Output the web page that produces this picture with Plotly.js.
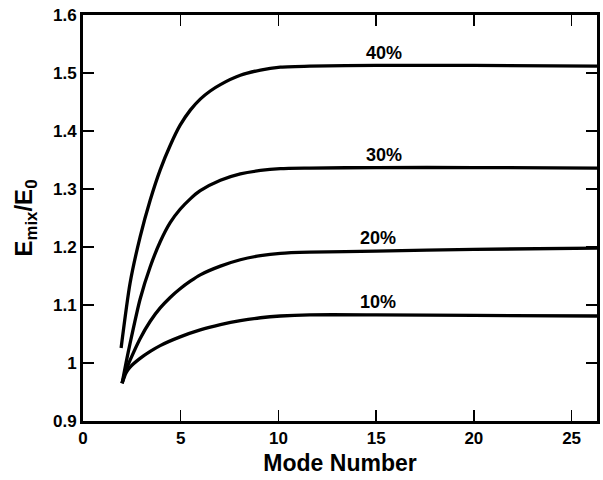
<!DOCTYPE html>
<html>
<head>
<meta charset="utf-8">
<script src="https://cdn.plot.ly/plotly-3.0.1.min.js"></script>
<style>html,body{margin:0;padding:0;background:#fff;}#chart{width:603px;height:480px;}</style>
</head>
<body>
<div id="chart"></div>
<script>
// Data
const x40 = [1.95, 2.41, 2.92, 3.44, 3.95, 4.46, 4.97, 5.49, 6.0, 6.51, 7.03, 8.05, 9.08, 10.1, 11.6, 15, 20, 26.3];
const y40 = [1.026, 1.138, 1.217, 1.281, 1.333, 1.375, 1.41, 1.436, 1.455, 1.469, 1.480, 1.496, 1.505, 1.510, 1.512, 1.513, 1.513, 1.512];

const x30 = [2, 2.2, 2.41, 2.92, 3.44, 3.95, 4.46, 4.97, 5.49, 6.0, 7.03, 8.05, 9.08, 10.1, 11.6, 15, 20, 26.3];
const y30 = [0.965, 1.0, 1.034, 1.110, 1.166, 1.209, 1.242, 1.265, 1.283, 1.297, 1.315, 1.326, 1.332, 1.335, 1.336, 1.337, 1.337, 1.336];

const x20 = [2, 2.2, 2.41, 2.92, 3.44, 3.95, 4.46, 4.97, 5.49, 6.0, 7.03, 8.05, 9.08, 10.1, 11.6, 15, 20, 26.3];
const y20 = [0.965, 0.988, 1.005, 1.042, 1.072, 1.095, 1.113, 1.128, 1.141, 1.152, 1.167, 1.178, 1.185, 1.189, 1.191, 1.193, 1.196, 1.198];

const x10 = [2, 2.2, 2.41, 2.92, 3.44, 3.95, 4.97, 6.0, 7.03, 8.05, 9.08, 10.1, 11.6, 15, 20, 26.3];
const y10 = [0.965, 0.983, 0.993, 1.008, 1.020, 1.030, 1.045, 1.057, 1.066, 1.073, 1.078, 1.081, 1.083, 1.083, 1.082, 1.081];

const labelText = ["40%", "30%", "20%", "10%"];
const labelX = [15.4, 15.4, 15.1, 15.1];
const labelY = [1.534, 1.359, 1.215, 1.105];

const xTicks = [0, 5, 10, 15, 20, 25];
const yTicks = [0.9, 1, 1.1, 1.2, 1.3, 1.4, 1.5, 1.6];

const lineStyle = {color: '#000', width: 3.3, shape: 'spline', smoothing: 0.7};
const traces = [[x40, y40], [x30, y30], [x20, y20], [x10, y10]].map(([xs, ys]) => ({
  x: xs, y: ys, type: 'scatter', mode: 'lines', line: lineStyle, hoverinfo: 'skip'
}));

const font = {family: 'Liberation Sans, Arial, Helvetica, sans-serif', color: '#000', weight: 'bold'};

const annotations = labelText.map((t, i) => ({
  x: labelX[i], y: labelY[i], xref: 'x', yref: 'y', text: t, showarrow: false,
  font: Object.assign({}, font, {size: 18})
}));

const axisCommon = {
  showline: true, linecolor: '#000', linewidth: 3, mirror: 'ticks',
  ticks: 'inside', ticklen: 11, tickwidth: 1.5, tickcolor: '#000',
  showgrid: false, zeroline: false,
  tickfont: Object.assign({}, font, {size: 17})
};

const layout = {
  width: 603, height: 480,
  margin: {l: 83, r: 6, t: 15, b: 59},
  paper_bgcolor: '#fff', plot_bgcolor: '#fff',
  showlegend: false,
  xaxis: Object.assign({}, axisCommon, {
    range: [0, 26.3], tickvals: xTicks, ticktext: xTicks.map(String),
    title: {text: 'Mode Number', font: Object.assign({}, font, {size: 23}), standoff: 8}
  }),
  yaxis: Object.assign({}, axisCommon, {
    range: [0.9, 1.6], tickvals: yTicks, ticktext: yTicks.map(String),
    title: {text: 'E<sub>mix</sub>/E<sub>0</sub>', font: Object.assign({}, font, {size: 24}), standoff: 14}
  }),
  annotations: annotations
};

Plotly.newPlot('chart', traces, layout, {staticPlot: true, displayModeBar: false});
</script>
</body>
</html>
